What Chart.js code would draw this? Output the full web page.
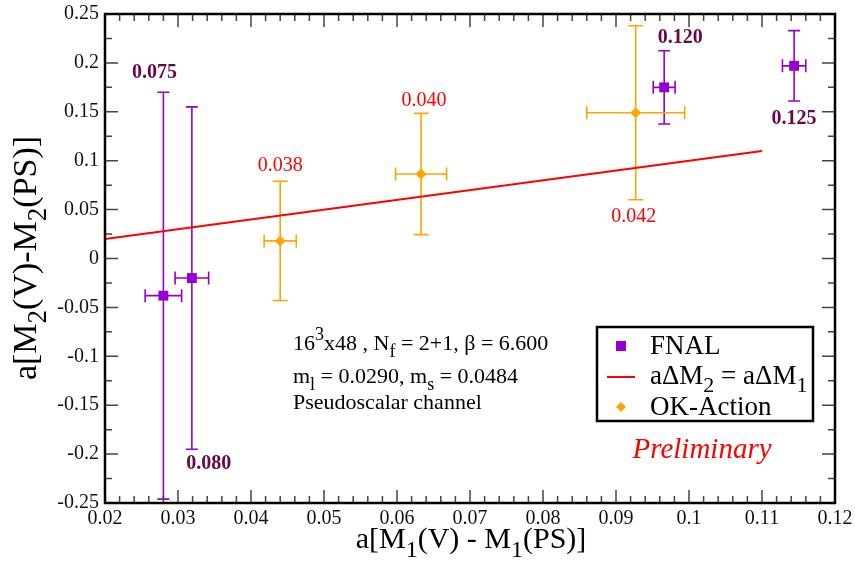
<!DOCTYPE html>
<html>
<head>
<meta charset="utf-8">
<script src="https://cdn.jsdelivr.net/npm/chart.js@4.4.9/dist/chart.umd.min.js"></script>
<style>
    body { margin: 0; background: #fff; }
</style>
</head>
<body>
<canvas id="chartDeltaM" width="855" height="561"></canvas>
<script>
// axis ticks
const xTicks = [0.02, 0.03, 0.04, 0.05, 0.06, 0.07, 0.08, 0.09, 0.10, 0.11, 0.12];
const xTickLabels = ['0.02', '0.03', '0.04', '0.05', '0.06', '0.07', '0.08', '0.09', '0.1', '0.11', '0.12'];
const yTicks = [-0.25, -0.2, -0.15, -0.1, -0.05, 0, 0.05, 0.1, 0.15, 0.2, 0.25];
const yTickLabels = ['-0.25', '-0.2', '-0.15', '-0.1', '-0.05', '0', '0.05', '0.1', '0.15', '0.2', '0.25'];

// FNAL points
const fnalX = [0.0280, 0.0319, 0.0966, 0.1144];
const fnalY = [-0.038, -0.020, 0.175, 0.197];
const fnalXErr = [0.0025, 0.0023, 0.0015, 0.0016];
const fnalYErr = [0.208, 0.175, 0.0375, 0.036];
const fnalLabels = ['0.075', '0.080', '0.120', '0.125'];

// OK-Action points
const okX = [0.0440, 0.0633, 0.0927];
const okY = [0.018, 0.0864, 0.149];
const okXErr = [0.0022, 0.0035, 0.0067];
const okYErr = [0.061, 0.062, 0.089];
const okLabels = ['0.038', '0.040', '0.042'];

// aDeltaM2 = aDeltaM1
const lineX = [0.02, 0.11];
const lineY = [0.02, 0.11];

// where each value label sits: which end of the error bar, and pixel offset
const fnalLabelPos = [['top', -9, -19], ['bottom', 17, 15], ['top', 16, -13], ['bottom', 0, 18]];
const okLabelPos = [['top', 0, -15], ['top', 3, -13], ['bottom', -2, 17]];

const serif = '"Liberation Serif", "DejaVu Serif", serif';
const roxo = '#9400d3';
const laranja = '#ffa500';
const vermelho = '#ff0000';
const vinho = '#670748';

// texto com subscrito / sobrescrito: parts = [[texto, ''|'sub'|'sup'], ...]
const drawRich = (ctx, parts, x, y, size, align = 'left', style = 'normal') => {
    const fontOf = (kind) => `${style} ${kind ? Math.round(size * 0.8) : size}px ${serif}`;
    let total = 0;
    parts.forEach(([t, kind]) => {
        ctx.font = fontOf(kind);
        total += ctx.measureText(t).width;
    });
    let cx = align === 'center' ? x - total / 2 : (align === 'right' ? x - total : x);
    ctx.textAlign = 'left';
    ctx.textBaseline = 'alphabetic';
    parts.forEach(([t, kind]) => {
        ctx.font = fontOf(kind);
        const dy = kind === 'sub' ? size * 0.3 : (kind === 'sup' ? -size * 0.45 : 0);
        ctx.fillText(t, cx, y + dy);
        cx += ctx.measureText(t).width;
    });
};

const errorBars = {
    id: 'errorBars',
    beforeDatasetsDraw(chart) {
        const { ctx, scales: { x, y } } = chart;
        const desenhar = (xs, ys, xe, ye, cor, cap) => {
            ctx.save();
            ctx.strokeStyle = cor;
            ctx.lineWidth = 1.6;
            xs.forEach((v, i) => {
                const px = x.getPixelForValue(v);
                const py = y.getPixelForValue(ys[i]);
                const top = y.getPixelForValue(ys[i] + ye[i]);
                const bot = y.getPixelForValue(ys[i] - ye[i]);
                const l = x.getPixelForValue(v - xe[i]);
                const r = x.getPixelForValue(v + xe[i]);
                ctx.beginPath();
                ctx.moveTo(px, top); ctx.lineTo(px, bot);
                ctx.moveTo(px - cap, top); ctx.lineTo(px + cap, top);
                ctx.moveTo(px - cap, bot); ctx.lineTo(px + cap, bot);
                ctx.moveTo(l, py); ctx.lineTo(r, py);
                ctx.moveTo(l, py - 6.5); ctx.lineTo(l, py + 6.5);
                ctx.moveTo(r, py - 6.5); ctx.lineTo(r, py + 6.5);
                ctx.stroke();
            });
            ctx.restore();
        };
        desenhar(fnalX, fnalY, fnalXErr, fnalYErr, roxo, 6);
        desenhar(okX, okY, okXErr, okYErr, laranja, 7.5);
    }
};

const frameAndText = {
    id: 'frameAndText',
    afterDraw(chart) {
        const { ctx, chartArea: a, scales: { x, y } } = chart;
        ctx.save();

        // ticks (inside, all four sides)
        ctx.strokeStyle = '#444';
        ctx.lineWidth = 1.5;
        ctx.beginPath();
        for (let i = 0; i < xTicks.length; i++) {
            const px = x.getPixelForValue(xTicks[i]);
            ctx.moveTo(px, a.bottom); ctx.lineTo(px, a.bottom - 13);
            ctx.moveTo(px, a.top); ctx.lineTo(px, a.top + 13);
            if (i < xTicks.length - 1) {
                const passo = (xTicks[i + 1] - xTicks[i]) / 5;
                for (let k = 1; k < 5; k++) {
                    const pm = x.getPixelForValue(xTicks[i] + passo * k);
                    ctx.moveTo(pm, a.bottom); ctx.lineTo(pm, a.bottom - 7);
                    ctx.moveTo(pm, a.top); ctx.lineTo(pm, a.top + 7);
                }
            }
        }
        for (let i = 0; i < yTicks.length; i++) {
            const py = y.getPixelForValue(yTicks[i]);
            ctx.moveTo(a.left, py); ctx.lineTo(a.left + 13, py);
            ctx.moveTo(a.right, py); ctx.lineTo(a.right - 13, py);
            if (i < yTicks.length - 1) {
                const pm = y.getPixelForValue((yTicks[i] + yTicks[i + 1]) / 2);
                ctx.moveTo(a.left, pm); ctx.lineTo(a.left + 7, pm);
                ctx.moveTo(a.right, pm); ctx.lineTo(a.right - 7, pm);
            }
        }
        ctx.stroke();

        // frame
        ctx.strokeStyle = '#000';
        ctx.lineWidth = 2.5;
        ctx.strokeRect(a.left, a.top, a.right - a.left, a.bottom - a.top);

        // tick labels
        ctx.fillStyle = '#111';
        ctx.font = `20px ${serif}`;
        ctx.textAlign = 'right';
        ctx.textBaseline = 'middle';
        yTicks.forEach((v, i) => ctx.fillText(yTickLabels[i], a.left - 6, y.getPixelForValue(v)));
        ctx.textAlign = 'center';
        ctx.textBaseline = 'top';
        xTicks.forEach((v, i) => ctx.fillText(xTickLabels[i], x.getPixelForValue(v), a.bottom + 6));

        // axis titles
        ctx.fillStyle = '#000';
        drawRich(ctx, [['a[M', ''], ['1', 'sub'], ['(V) - M', ''], ['1', 'sub'], ['(PS)]', '']],
            471, 548, 30, 'center');
        ctx.save();
        ctx.translate(36, 258);
        ctx.rotate(-Math.PI / 2);
        drawRich(ctx, [['a[M', ''], ['2', 'sub'], ['(V)-M', ''], ['2', 'sub'], ['(PS)]', '']], 0, 0, 34, 'center');
        ctx.restore();

        // value labels next to the error bars
        const rotular = (xs, ys, ye, textos, pos, cor, peso) => {
            ctx.fillStyle = cor;
            ctx.font = `${peso} 20px ${serif}`;
            ctx.textAlign = 'center';
            ctx.textBaseline = 'middle';
            xs.forEach((v, i) => {
                const [ponta, dx, dy] = pos[i];
                const yy = ponta === 'top' ? ys[i] + ye[i] : ys[i] - ye[i];
                ctx.fillText(textos[i], x.getPixelForValue(v) + dx, y.getPixelForValue(yy) + dy);
            });
        };
        rotular(fnalX, fnalY, fnalYErr, fnalLabels, fnalLabelPos, vinho, 'bold');
        rotular(okX, okY, okYErr, okLabels, okLabelPos, vermelho, 'normal');

        // run info
        ctx.fillStyle = '#000';
        drawRich(ctx, [['16', ''], ['3', 'sup'], ['x48 , N', ''], ['f', 'sub'], [' = 2+1, \u03b2 = 6.600', '']], 293, 350, 22);
        drawRich(ctx, [['m', ''], ['l', 'sub'], [' = 0.0290, m', ''], ['s', 'sub'], [' = 0.0484', '']], 293, 383, 22);
        drawRich(ctx, [['Pseudoscalar channel', '']], 293, 409, 22);

        // legend
        ctx.fillStyle = '#fff';
        ctx.fillRect(597, 327, 216, 94);
        ctx.strokeStyle = '#000';
        ctx.lineWidth = 2.5;
        ctx.strokeRect(597, 327, 216, 94);
        ctx.fillStyle = roxo;
        ctx.fillRect(616, 341, 10, 10);
        ctx.strokeStyle = vermelho;
        ctx.lineWidth = 2;
        ctx.beginPath();
        ctx.moveTo(607, 377); ctx.lineTo(635, 377);
        ctx.stroke();
        ctx.fillStyle = laranja;
        ctx.beginPath();
        ctx.moveTo(621, 402); ctx.lineTo(626, 407); ctx.lineTo(621, 412); ctx.lineTo(616, 407);
        ctx.closePath();
        ctx.fill();
        ctx.fillStyle = '#000';
        drawRich(ctx, [['FNAL', '']], 650, 354, 27);
        drawRich(ctx, [['a\u0394M', ''], ['2', 'sub'], [' = a\u0394M', ''], ['1', 'sub']], 650, 384, 27);
        drawRich(ctx, [['OK-Action', '']], 650, 415, 27);

        // Preliminary
        ctx.fillStyle = vermelho;
        drawRich(ctx, [['Preliminary', '']], 702, 458, 29, 'center', 'italic');

        ctx.restore();
    }
};

const ctx = document.getElementById('chartDeltaM');
new Chart(ctx, {
    type: 'scatter',
    data: {
        datasets: [
            {
                label: 'FNAL',
                data: fnalX.map((v, i) => ({ x: v, y: fnalY[i] })),
                pointStyle: 'rect',
                pointRadius: 7,
                backgroundColor: roxo,
                borderColor: roxo,
                borderWidth: 0
            },
            {
                label: 'aΔM2 = aΔM1',
                data: lineX.map((v, i) => ({ x: v, y: lineY[i] })),
                showLine: true,
                pointRadius: 0,
                borderColor: vermelho,
                borderWidth: 2
            },
            {
                label: 'OK-Action',
                data: okX.map((v, i) => ({ x: v, y: okY[i] })),
                pointStyle: 'rectRot',
                pointRadius: 5.5,
                backgroundColor: laranja,
                borderColor: laranja,
                borderWidth: 0
            }
        ]
    },
    options: {
        responsive: false,
        animation: false,
        layout: { padding: { left: 105, top: 14, right: 20, bottom: 58 } },
        plugins: {
            legend: { display: false },
            tooltip: { enabled: false }
        },
        scales: {
            x: { type: 'linear', min: 0.02, max: 0.12, display: false },
            y: { type: 'linear', min: -0.25, max: 0.25, display: false }
        }
    },
    plugins: [errorBars, frameAndText]
});
</script>
</body>
</html>
